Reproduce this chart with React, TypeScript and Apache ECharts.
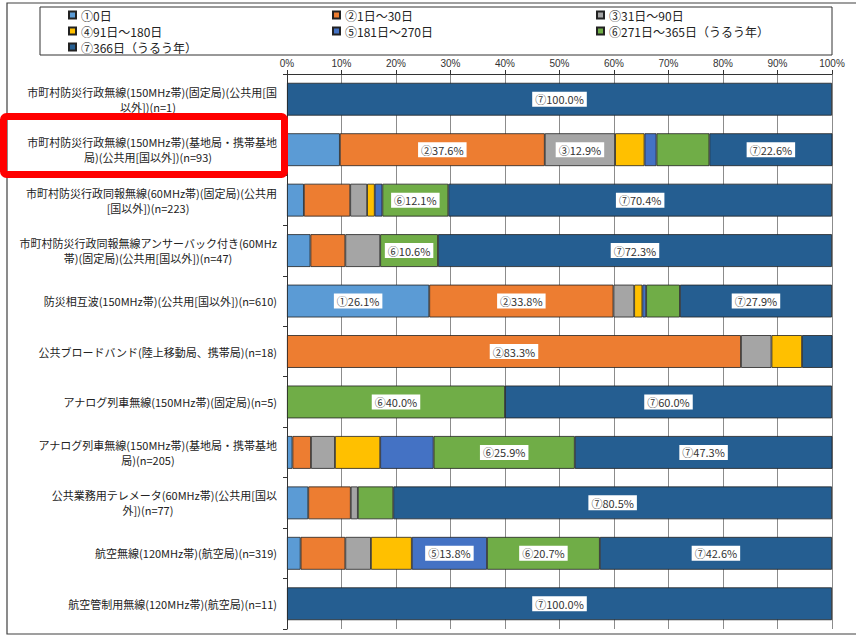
import React, { useEffect, useRef } from "react";
import * as echarts from "echarts";

const categories = [
  "市町村防災行政無線(150MHz帯)(固定局)(公共用[国\n以外])(n=1)",
  "市町村防災行政無線(150MHz帯)(基地局・携帯基地\n局)(公共用[国以外])(n=93)",
  "市町村防災行政同報無線(60MHz帯)(固定局)(公共用\n[国以外])(n=223)",
  "市町村防災行政同報無線アンサーバック付き(60MHz\n帯)(固定局)(公共用[国以外])(n=47)",
  "防災相互波(150MHz帯)(公共用[国以外])(n=610)",
  "公共ブロードバンド(陸上移動局、携帯局)(n=18)",
  "アナログ列車無線(150MHz帯)(固定局)(n=5)",
  "アナログ列車無線(150MHz帯)(基地局・携帯基地\n局)(n=205)",
  "公共業務用テレメータ(60MHz帯)(公共用[国以\n外])(n=77)",
  "航空無線(120MHz帯)(航空局)(n=319)",
  "航空管制用無線(120MHz帯)(航空局)(n=11)",
];

const seriesNames = [
  "①0日",
  "②1日～30日",
  "③31日～90日",
  "④91日～180日",
  "⑤181日～270日",
  "⑥271日～365日（うるう年）",
  "⑦366日（うるう年）",
];
const circled = ["①", "②", "③", "④", "⑤", "⑥", "⑦"];

const s1 = [0, 9.7, 3.1, 4.3, 26.1, 0, 0, 1.0, 3.9, 2.5, 0];
const s2 = [0, 37.6, 8.5, 6.4, 33.8, 83.3, 0, 3.4, 7.8, 8.2, 0];
const s3 = [0, 12.9, 3.1, 6.4, 3.8, 5.6, 0, 4.4, 1.3, 4.7, 0];
const s4 = [0, 5.4, 1.4, 0, 1.5, 5.6, 0, 8.3, 0, 7.5, 0];
const s5 = [0, 2.2, 1.4, 0, 0.7, 0, 0, 9.8, 0, 13.8, 0];
const s6 = [0, 9.7, 12.1, 10.6, 6.2, 0, 40.0, 25.9, 6.5, 20.7, 0];
const s7 = [100, 22.6, 70.4, 72.3, 27.9, 5.6, 60.0, 47.3, 80.5, 42.6, 100];
const seriesValues = [s1, s2, s3, s4, s5, s6, s7];

const colors = ["#5B9BD5", "#ED7D31", "#A5A5A5", "#FFC000", "#4472C4", "#70AD47", "#255E91"];

const FONT = "'Noto Sans CJK JP', 'Noto Sans', sans-serif";
const NARROW = "'Liberation Sans Narrow', 'Liberation Sans', 'Noto Sans', sans-serif";

export default function App() {
  const ref = useRef<HTMLDivElement>(null);

  useEffect(() => {
    const chart = echarts.init(ref.current!, null, { renderer: "svg" });

    const series = seriesNames.map((name, i) => ({
      name,
      type: "bar",
      stack: "total",
      barWidth: "65%",
      itemStyle: { color: colors[i], borderColor: "#222", borderWidth: 0.8 },
      label: {
        show: true,
        position: "inside",
        backgroundColor: "#ffffff",
        padding: [2, 3],
        color: "#333",
        fontSize: 11,
        fontFamily: FONT,
        formatter: (p: any) => circled[i] + Number(p.value).toFixed(1) + "%",
      },
      data: seriesValues[i].map((v) =>
        v === 0 ? "-" : { value: v, label: { show: v >= 10 } }
      ),
    }));

    const legendCommon = {
      orient: "vertical",
      top: 7,
      padding: 0,
      itemGap: 0,
      itemWidth: 7,
      itemHeight: 7,
      icon: "rect",
      textStyle: { fontSize: 12, lineHeight: 16, color: "#222", fontFamily: FONT },
    };

    chart.setOption({
      animation: false,
      backgroundColor: "#ffffff",
      textStyle: { fontFamily: FONT },
      legend: [
        { ...legendCommon, left: 68, data: [seriesNames[0], seriesNames[3], seriesNames[6]] },
        { ...legendCommon, left: 332, data: [seriesNames[1], seriesNames[4]] },
        { ...legendCommon, left: 596, data: [seriesNames[2], seriesNames[5]] },
      ],
      grid: { left: 287, right: 24, top: 74, bottom: 12, containLabel: false },
      xAxis: {
        type: "value",
        position: "top",
        min: 0,
        max: 100,
        interval: 10,
        axisLine: { show: true, lineStyle: { color: "#333", width: 1 } },
        axisTick: { show: true, length: 4, lineStyle: { color: "#333" } },
        axisLabel: {
          formatter: "{value}%",
          fontSize: 10,
          color: "#333",
          margin: 6,
          fontFamily: NARROW,
        },
        splitLine: { show: true, lineStyle: { color: "#8c8c8c", width: 1 } },
      },
      yAxis: {
        type: "category",
        inverse: true,
        data: categories,
        axisLine: { show: true, lineStyle: { color: "#333", width: 1 } },
        axisTick: { show: true, length: 4, lineStyle: { color: "#333" } },
        axisLabel: {
          margin: 10,
          fontSize: 11,
          lineHeight: 15,
          color: "#222",
          fontFamily: FONT,
          formatter: (value: string) => {
            const lines = value.split("\n");
            if (lines.length === 1) return value;
            return "{a|" + lines[0] + "}\n{b|" + lines[1] + "}";
          },
          rich: {
            a: { width: 258, align: "right", fontSize: 11, lineHeight: 15, color: "#222", fontFamily: FONT },
            b: { width: 258, align: "center", fontSize: 11, lineHeight: 15, color: "#222", fontFamily: FONT },
          },
        },
      },
      graphic: [
        {
          type: "rect",
          shape: { x: 7, y: 3, width: 900, height: 631 },
          style: { fill: "none", stroke: "#404040", lineWidth: 1.2 },
          silent: true,
        },
        {
          type: "rect",
          shape: { x: 40, y: 7, width: 792, height: 48 },
          style: { fill: "none", stroke: "#333", lineWidth: 1 },
          silent: true,
        },
        {
          type: "rect",
          z: 100,
          shape: { x: 3.5, y: 116.5, width: 281, height: 58, r: 3 },
          style: { fill: "none", stroke: "#FF0000", lineWidth: 7 },
          silent: true,
        },
      ],
      series,
    });

    return () => chart.dispose();
  }, []);

  return (
    <div
      ref={ref}
      style={{ position: "absolute", left: 0, top: 0, width: 856, height: 641, background: "#fff" }}
    />
  );
}
